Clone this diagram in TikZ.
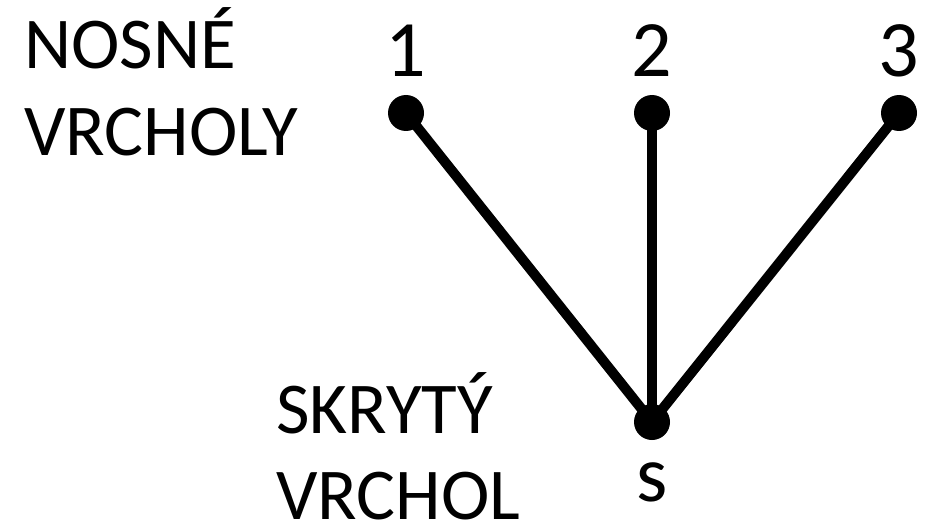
\documentclass[tikz,border=0pt]{standalone}
\usepackage{fontspec}
\setmainfont{Carlito}
\usepackage{tikz}
\usetikzlibrary{positioning}

\begin{document}
\begin{tikzpicture}[
    x=1pt, y=-1pt,
    vertex/.style={circle, fill=black, inner sep=0pt, minimum size=36pt},
    edge/.style={line width=10pt},
    caption/.style={align=left, inner sep=0pt, anchor=base west, font=\fontsize{73}{86}\selectfont},
    num/.style={inner sep=0pt, anchor=base, font=\fontsize{80}{90}\selectfont}
]
\useasboundingbox (0,0) rectangle (934,524);
% vrcholy
\node[vertex] (v1) at (406,113) {};
\node[vertex] (v2) at (652,113) {};
\node[vertex] (v3) at (899,113) {};
\node[vertex] (s) at (652,422) {};
% hrany
\draw[edge] (s.center) -- (v1.center);
\draw[edge] (s.center) -- (v2.center);
\draw[edge] (s.center) -- (v3.center);
% popisky
\node[num] (l1) at (406,77) {1};
\node[num] (l2) at (652,77) {2};
\node[num] (l3) at (899,77) {3};
\node[num] (ls) at (652,501) {s};
\node[caption] (nosne) at (24,155) {NOSNÉ\\VRCHOLY};
\node[caption] (skryty) at (276,519) {SKRYTÝ\\VRCHOL};
\end{tikzpicture}
\end{document}
